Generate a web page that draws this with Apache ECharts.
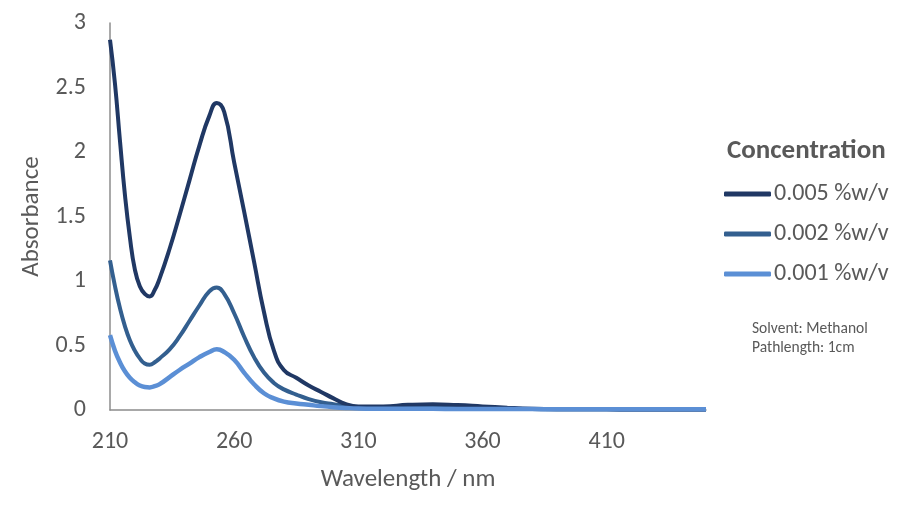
<!DOCTYPE html>
<html>
<head>
<meta charset="utf-8">
<script src="https://cdn.jsdelivr.net/npm/echarts@6/dist/echarts.min.js"></script>
<style>
  html, body { margin: 0; padding: 0; background: #fff; }
  #chart { width: 908px; height: 508px; }
</style>
</head>
<body>
<div id="chart"></div>
<script>
// wavelength (nm) sample points
var wavelength = [210, 212, 214, 216, 218, 220, 222, 224, 226, 228, 230, 234, 238, 242, 246, 250, 253, 256, 260, 264,
    268, 272, 276, 280, 285, 290, 295, 300, 305, 310, 320, 330, 340, 350, 360, 370, 380, 390, 400, 410, 420, 430, 440, 450];

var conc005 = [2.87, 2.53, 2.09, 1.67, 1.34, 1.09, 0.96, 0.90, 0.88, 0.93, 1.02, 1.25, 1.51, 1.78, 2.05, 2.28, 2.38, 2.31, 1.92, 1.54,
    1.15, 0.76, 0.46, 0.31, 0.25, 0.19, 0.14, 0.09, 0.045, 0.028, 0.028, 0.04, 0.045, 0.038, 0.028, 0.018, 0.010, 0.006, 0.005, 0.005, 0.004, 0.004, 0.004, 0.004];

var conc002 = [1.16, 0.96, 0.79, 0.65, 0.54, 0.46, 0.40, 0.36, 0.35, 0.37, 0.40, 0.47, 0.57, 0.69, 0.81, 0.92, 0.95, 0.90, 0.75, 0.57,
    0.41, 0.29, 0.21, 0.16, 0.12, 0.085, 0.06, 0.045, 0.03, 0.022, 0.018, 0.02, 0.02, 0.018, 0.014, 0.010, 0.007, 0.005, 0.005, 0.005, 0.004, 0.004, 0.004, 0.004];

var conc001 = [0.58, 0.46, 0.37, 0.30, 0.25, 0.215, 0.19, 0.178, 0.175, 0.185, 0.20, 0.255, 0.31, 0.36, 0.41, 0.45, 0.47, 0.45, 0.39, 0.29,
    0.20, 0.13, 0.09, 0.065, 0.05, 0.04, 0.03, 0.022, 0.016, 0.012, 0.010, 0.009, 0.009, 0.008, 0.008, 0.007, 0.007, 0.006, 0.006, 0.006, 0.006, 0.006, 0.006, 0.006];

var seriesNames = ['0.005 %w/v', '0.002 %w/v', '0.001 %w/v'];
var seriesColors = ['#203864', '#335f8f', '#5b8fd5'];

var _pairs = function (xs, ys) {
    var out = [];
    for (var i = 0; i < xs.length; i++) {
        out.push([xs[i], ys[i]]);
    }
    return out;
};

var font = 'Carlito, "Open Sans", sans-serif';
var grey = '#595959';

var myChart = echarts.init(document.getElementById('chart'));

var option = {
    animation: false,
    textStyle: { fontFamily: font },
    title: [{
        text: 'Concentration',
        left: 722,
        top: 133,
        textStyle: { fontFamily: font, fontSize: 27, fontWeight: 'bold', color: grey }
    }, {
        text: 'Solvent: Methanol\nPathlength: 1cm',
        left: 747,
        top: 315,
        textStyle: { fontFamily: font, fontSize: 15.5, fontWeight: 'normal', color: grey, lineHeight: 19 }
    }],
    legend: {
        data: seriesNames,
        orient: 'vertical',
        left: 719,
        top: 177,
        itemWidth: 47,
        itemHeight: 5,
        itemGap: 16,
        icon: 'roundRect',
        textStyle: { fontFamily: font, fontSize: 24, lineHeight: 24, color: grey, padding: [0, 0, 0, -2] }
    },
    grid: {
        left: 110,
        right: 202,
        top: 23,
        bottom: 98,
        containLabel: false
    },
    xAxis: {
        type: 'value',
        min: 210,
        max: 450,
        interval: 50,
        name: 'Wavelength / nm',
        nameLocation: 'middle',
        nameGap: 57,
        nameTextStyle: { fontFamily: font, fontSize: 25, color: grey },
        axisLine: { lineStyle: { color: '#8c8c8c', width: 1.5 } },
        axisTick: { show: false },
        splitLine: { show: false },
        axisLabel: { fontFamily: font, fontSize: 24, color: grey, margin: 20, showMaxLabel: false }
    },
    yAxis: {
        type: 'value',
        min: 0,
        max: 3,
        interval: 0.5,
        name: 'Absorbance',
        nameLocation: 'middle',
        nameGap: 65,
        nameTextStyle: { fontFamily: font, fontSize: 25, color: grey },
        axisLine: { show: true, lineStyle: { color: '#8c8c8c', width: 1.5 } },
        axisTick: { show: false },
        splitLine: { show: false },
        axisLabel: { fontFamily: font, fontSize: 24, color: grey, margin: 24 }
    },
    series: [{
        name: seriesNames[0],
        type: 'line',
        smooth: 0.5,
        symbol: 'none',
        data: _pairs(wavelength, conc005),
        lineStyle: { color: seriesColors[0], width: 4 },
        itemStyle: { color: seriesColors[0] },
        z: 4
    }, {
        name: seriesNames[1],
        type: 'line',
        smooth: 0.5,
        symbol: 'none',
        data: _pairs(wavelength, conc002),
        lineStyle: { color: seriesColors[1], width: 4 },
        itemStyle: { color: seriesColors[1] },
        z: 3
    }, {
        name: seriesNames[2],
        type: 'line',
        smooth: 0.5,
        symbol: 'none',
        data: _pairs(wavelength, conc001),
        lineStyle: { color: seriesColors[2], width: 4.5 },
        itemStyle: { color: seriesColors[2] },
        z: 5
    }]
};

myChart.setOption(option);
</script>
</body>
</html>
